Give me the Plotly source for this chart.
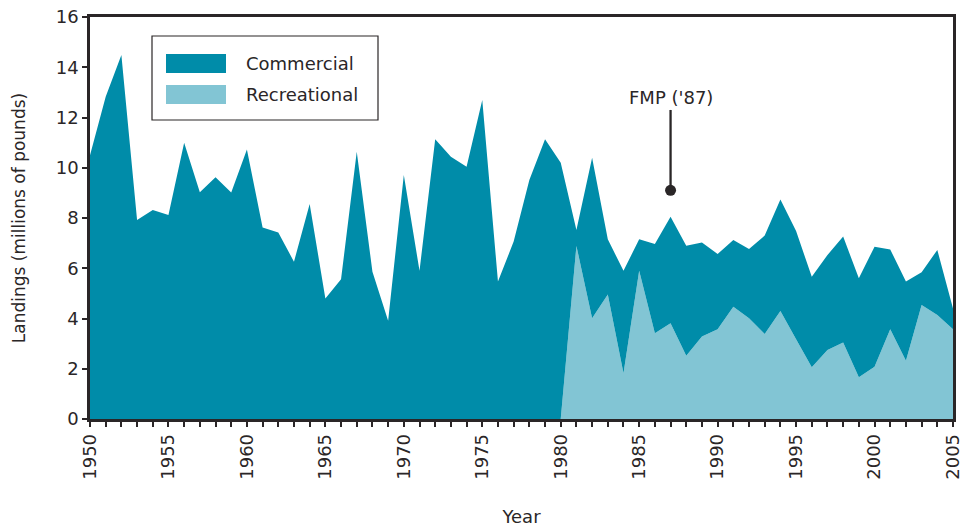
import plotly.graph_objects as go

years = list(range(1950, 2006))

total_landings = [
    10.50, 12.83, 14.49, 7.92, 8.32, 8.12, 11.00, 9.02, 9.62, 9.01,
    10.73, 7.62, 7.42, 6.26, 8.56, 4.80, 5.56, 10.64, 5.86, 3.91,
    9.71, 5.90, 11.13, 10.44, 10.04, 12.70, 5.47, 7.06, 9.51, 11.13,
    10.20, 7.52, 10.40, 7.15, 5.90, 7.15, 6.97, 8.05, 6.90, 7.02,
    6.57, 7.12, 6.77, 7.30, 8.74, 7.48, 5.66, 6.53, 7.26, 5.60,
    6.86, 6.75, 5.47, 5.84, 6.73, 4.40,
]

recreational = [0.0] * 30 + [
    0.00, 6.89, 4.01, 4.96, 1.82, 5.90, 3.41, 3.81, 2.52, 3.28,
    3.57, 4.47, 4.01, 3.38, 4.30, 3.17, 2.06, 2.75, 3.04, 1.66,
    2.08, 3.57, 2.32, 4.54, 4.14, 3.57,
]

commercial = [round(t - r, 2) for t, r in zip(total_landings, recreational)]

series_names = ["Commercial", "Recreational"]
series_colors = ["#008CA9", "#82C5D4"]

tick_years = list(range(1950, 2006))
tick_labels = [str(y) if y % 5 == 0 else "" for y in tick_years]
y_ticks = [0, 2, 4, 6, 8, 10, 12, 14, 16]

fmp_year = 1987
fmp_label = "FMP ('87)"
fmp_dot_value = 9.1
fmp_line_top = 12.3

TXT = "#2A2627"
FONT = "DejaVu Sans"

fig = go.Figure()
fig.add_trace(go.Scatter(
    x=years, y=recreational, name=series_names[1], mode="lines",
    stackgroup="s", line=dict(width=0, color=series_colors[1]),
    fillcolor=series_colors[1], showlegend=False, hoverinfo="skip",
))
fig.add_trace(go.Scatter(
    x=years, y=commercial, name=series_names[0], mode="lines",
    stackgroup="s", line=dict(width=0, color=series_colors[0]),
    fillcolor=series_colors[0], showlegend=False, hoverinfo="skip",
))

# FMP marker
fig.add_trace(go.Scatter(
    x=[fmp_year, fmp_year], y=[fmp_dot_value, fmp_line_top], mode="lines",
    line=dict(color=TXT, width=2.3), showlegend=False, hoverinfo="skip",
))
fig.add_trace(go.Scatter(
    x=[fmp_year], y=[fmp_dot_value], mode="markers",
    marker=dict(color=TXT, size=11), showlegend=False, hoverinfo="skip",
))
fig.add_annotation(
    x=fmp_year, y=fmp_line_top, text=fmp_label, showarrow=False,
    yanchor="bottom", yshift=0, font=dict(family=FONT, size=18, color=TXT),
)

# Custom legend (paper coordinates)
plot_l, plot_r, plot_t, plot_b = 90, 953, 17, 419
W, H = plot_r - plot_l, plot_b - plot_t

def px(x):
    return (x - plot_l) / W

def py(y):
    return (plot_b - y) / H

fig.add_shape(type="rect", xref="paper", yref="paper",
              x0=px(152), x1=px(378), y0=py(120), y1=py(36),
              line=dict(color=TXT, width=1.2), fillcolor="white")
for i, (nm, col) in enumerate(zip(series_names, series_colors)):
    top = 54 + i * 31
    fig.add_shape(type="rect", xref="paper", yref="paper",
                  x0=px(166), x1=px(226), y0=py(top + 19), y1=py(top),
                  line=dict(width=0), fillcolor=col)
    fig.add_annotation(xref="paper", yref="paper", x=px(244), y=py(top + 9.5),
                       text=nm, showarrow=False, xanchor="left", yanchor="middle",
                       font=dict(family=FONT, size=18, color=TXT))

fig.update_layout(
    width=961, height=527,
    margin=dict(l=plot_l, r=961 - plot_r, t=plot_t, b=527 - plot_b),
    paper_bgcolor="white", plot_bgcolor="white",
    font=dict(family=FONT, color=TXT, size=18),
    showlegend=False,
)
fig.update_xaxes(
    range=[1950, 2005], tickvals=tick_years, ticktext=tick_labels,
    tickangle=-90, ticks="outside", ticklen=5, tickwidth=1.5, tickcolor=TXT,
    showline=True, linewidth=2.5, linecolor=TXT, mirror=True,
    showgrid=False, zeroline=False, automargin=False,
    ticklabeloverflow="allow",
    tickfont=dict(family=FONT, size=18, color=TXT),
    title=dict(text="Year", font=dict(family=FONT, size=18, color=TXT), standoff=33),
)
fig.update_yaxes(
    range=[0, 16], tickvals=y_ticks, ticks="outside", ticklen=5, tickwidth=1.5,
    tickcolor=TXT, showline=True, linewidth=2.5, linecolor=TXT, mirror=True,
    showgrid=False, zeroline=False, automargin=False,
    tickfont=dict(family=FONT, size=18, color=TXT),
    title=dict(text="Landings (millions of pounds)",
               font=dict(family=FONT, size=17, color=TXT), standoff=26),
)

fig.write_html("out.html", config={"displayModeBar": False},
               post_script="document.body.style.margin='0';")
